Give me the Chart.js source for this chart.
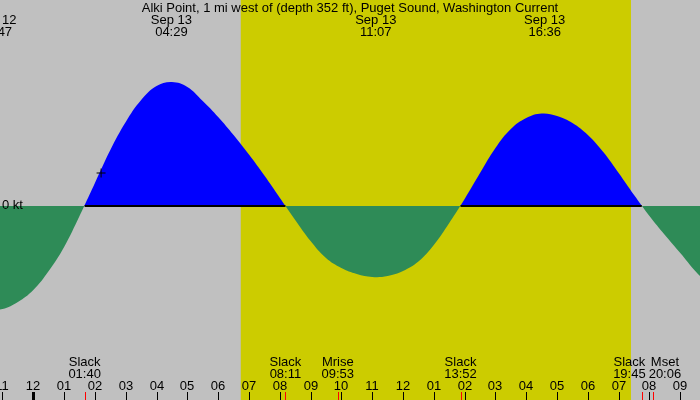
<!DOCTYPE html>
<html>
<head>
<meta charset="utf-8">
<script src="https://cdn.jsdelivr.net/npm/chart.js@4/dist/chart.umd.min.js"></script>
<style>
html,body{margin:0;padding:0;background:#c0c0c0;}
canvas{display:block;}
</style>
</head>
<body>
<canvas id="c" width="700" height="400"></canvas>
<script>
// ---- data (hours relative to midnight Sep 13, speeds in knots) ----
const titleText = 'Alki Point, 1 mi west of (depth 352 ft), Puget Sound, Washington Current';
const curveHours = [-1.5, -1, -0.5, 0, 0.5, 1, 1.5, 2, 2.5, 3, 3.5, 4, 4.5, 5, 5.5, 6, 6.5, 7, 7.5, 8, 8.5, 9, 9.5, 10, 10.5, 11, 11.5, 12, 12.5, 13, 13.5, 14, 14.5, 15, 15.5, 16, 16.5, 17, 17.5, 18, 18.5, 19, 19.5, 20, 20.5, 21, 21.5, 22];
const curveKnots = [-1.035, -1.03, -0.96, -0.84, -0.65, -0.41, -0.10, 0.23, 0.56, 0.84, 1.06, 1.20, 1.24, 1.19, 1.05, 0.89, 0.71, 0.515, 0.305, 0.083, -0.14, -0.35, -0.52, -0.62, -0.68, -0.71, -0.70, -0.65, -0.555, -0.39, -0.17, 0.07, 0.33, 0.58, 0.77, 0.88, 0.925, 0.90, 0.83, 0.71, 0.54, 0.33, 0.11, -0.10, -0.29, -0.47, -0.655, -0.81];
const extremaDates = ['Sep 12', 'Sep 13', 'Sep 13', 'Sep 13'];
const extremaTimes = ['22:47', '04:29', '11:07', '16:36'];
const extremaDays = [-1, 0, 0, 0];
const eventNames = ['Slack', 'Slack', 'Mrise', 'Slack', 'Slack', 'Mset'];
const eventTimes = ['01:40', '08:11', '09:53', '13:52', '19:45', '20:06'];
const sunTimes = ['06:44', '19:24'];
const nowTime = ['02:12'];
const nowKnots = [0.33];
const hourTicks = [-1,0,1,2,3,4,5,6,7,8,9,10,11,12,13,14,15,16,17,18,19,20,21];
const zeroLabel = '0 kt';

function hrs(s, day) {
  const p = s.split(':').map(Number);
  return (day || 0) * 24 + p[0] + p[1] / 60;
}
function hourLabel(h) {
  const v = ((h % 12) + 12) % 12;
  return v === 0 ? '12' : String(v).padStart(2, '0');
}

const FONT = '13px "Liberation Sans", Arial, sans-serif';

const bgPlugin = {
  id: 'bg',
  beforeDraw(chart) {
    const ctx = chart.ctx, x = chart.scales.x, a = chart.chartArea;
    ctx.save();
    ctx.fillStyle = '#c0c0c0';
    ctx.fillRect(0, 0, chart.width, chart.height);
    const x0 = x.getPixelForValue(hrs(sunTimes[0]));
    const x1 = x.getPixelForValue(hrs(sunTimes[1]));
    ctx.fillStyle = '#cccc00';
    ctx.fillRect(x0, a.top, x1 - x0, a.bottom - a.top);
    ctx.restore();
  }
};

const textPlugin = {
  id: 'texts',
  afterDraw(chart) {
    const ctx = chart.ctx, xs = chart.scales.x, ys = chart.scales.y;
    ctx.save();
    ctx.font = FONT;
    ctx.fillStyle = '#000';
    ctx.textBaseline = 'alphabetic';
    ctx.textAlign = 'center';
    ctx.fillText(titleText, chart.width / 2, 12);
    extremaTimes.forEach((t, i) => {
      const px = xs.getPixelForValue(hrs(t, extremaDays[i]));
      ctx.fillText(extremaDates[i], px, 24);
      ctx.fillText(t, px, 36);
    });
    ctx.textAlign = 'left';
    ctx.textBaseline = 'middle';
    ctx.fillText(zeroLabel, 2, ys.getPixelForValue(0) - 1);
    ctx.textAlign = 'center';
    ctx.textBaseline = 'alphabetic';
    const pxs = eventTimes.map(t => xs.getPixelForValue(hrs(t)));
    const ws = eventNames.map((n, i) => Math.max(ctx.measureText(n).width, ctx.measureText(eventTimes[i]).width));
    const cx = pxs.slice();
    const gap = 3;
    for (let i = 1; i < cx.length; i++) {
      if (cx[i] - ws[i] / 2 < cx[i - 1] + ws[i - 1] / 2 + gap) {
        const mid = (pxs[i - 1] + pxs[i]) / 2;
        const total = ws[i - 1] + gap + ws[i];
        cx[i - 1] = mid - total / 2 + ws[i - 1] / 2;
        cx[i] = mid + total / 2 - ws[i] / 2;
      }
    }
    eventNames.forEach((n, i) => {
      ctx.fillText(n, cx[i], 366);
      ctx.fillText(eventTimes[i], cx[i], 378);
    });
    hourTicks.forEach(h => {
      const px = Math.round(xs.getPixelForValue(h));
      ctx.fillText(hourLabel(h), px, 390);
      if (h % 24 === 0) ctx.fillRect(px - 1, 392, 3, 8);
      else ctx.fillRect(px, 392, 1, 8);
    });
    ctx.fillStyle = '#ff0000';
    pxs.forEach(px => ctx.fillRect(Math.round(px), 392, 1, 8));
    ctx.restore();
  }
};

const curveData = curveHours.map((h, i) => ({x: h, y: curveKnots[i]}));
// zero baseline under the flood (between slack pairs)
const slackHours = eventTimes.filter((t, i) => eventNames[i] === 'Slack').map(t => hrs(t));
const baseData = [];
for (let i = 0; i + 1 < slackHours.length; i += 2) {
  if (baseData.length) baseData.push({x: (slackHours[i - 1] + slackHours[i]) / 2, y: null});
  baseData.push({x: slackHours[i], y: 0}, {x: slackHours[i + 1], y: 0});
}
const nowData = nowTime.map((t, i) => ({x: hrs(t), y: nowKnots[i]}));

new Chart(document.getElementById('c'), {
  type: 'line',
  data: {
    datasets: [
      {
        data: curveData,
        borderWidth: 0,
        borderColor: 'rgba(0,0,0,0)',
        pointRadius: 0,
        tension: 0.4,
        fill: {target: 'origin', above: '#0000ff', below: '#2e8b57'},
        order: 3
      },
      {
        data: baseData,
        borderColor: '#000',
        borderWidth: 2,
        pointRadius: 0,
        fill: false,
        spanGaps: false,
        order: 2
      },
      {
        type: 'scatter',
        data: nowData,
        pointStyle: 'cross',
        pointRadius: 4.5,
        borderColor: '#000',
        borderWidth: 1,
        order: 1
      }
    ]
  },
  options: {
    responsive: false,
    animation: false,
    devicePixelRatio: 1,
    layout: {padding: 0, autoPadding: false},
    plugins: {legend: {display: false}, tooltip: {enabled: false}, title: {display: false}},
    scales: {
      x: {type: 'linear', min: -1.081, max: 21.64, display: false},
      y: {type: 'linear', min: -1.94, max: 2.06, display: false}
    }
  },
  plugins: [bgPlugin, textPlugin]
});
</script>
</body>
</html>
